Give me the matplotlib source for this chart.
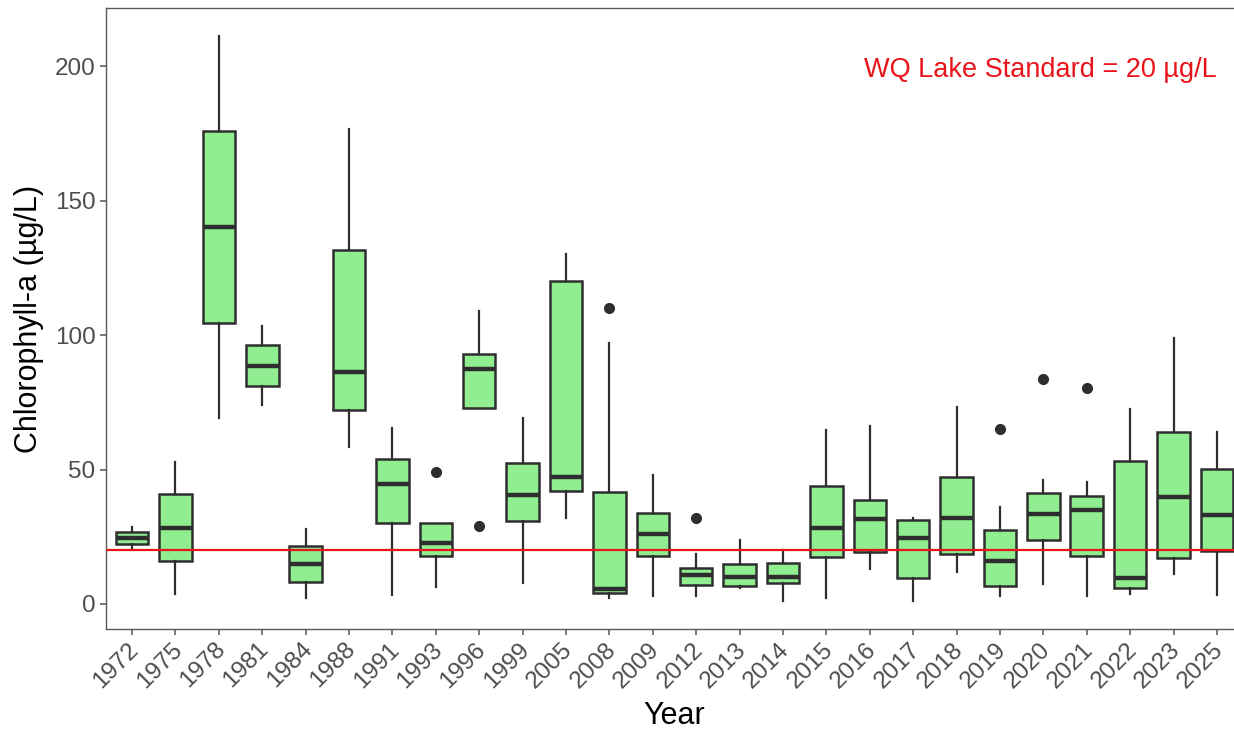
import matplotlib.pyplot as plt
import matplotlib.transforms as mtransforms
import numpy as np

plt.rcParams['font.family'] = ['Liberation Sans', 'DejaVu Sans']

years = ['1972', '1975', '1978', '1981', '1984', '1988', '1991', '1993', '1996',
         '1999', '2005', '2008', '2009', '2012', '2013', '2014', '2015', '2016',
         '2017', '2018', '2019', '2020', '2021', '2022', '2023', '2025']

# five-number summaries per year (chlorophyll-a, ug/L)
whis_lo = [20.3, 3.7, 69.3, 74.0, 2.1, 58.4, 3.3, 6.2, 73.0, 7.7, 32.1, 2.1, 2.9,
           3.1, 5.9, 1.1, 2.1, 13.0, 1.2, 11.8, 2.9, 7.3, 2.9, 3.6, 11.0, 3.3]
q1 = [22.2, 15.9, 104.6, 81.2, 8.3, 72.1, 30.2, 18.0, 73.0, 30.7, 42.0, 4.0, 17.7,
      7.2, 6.6, 7.9, 17.6, 19.3, 9.8, 18.6, 6.8, 23.8, 17.9, 5.9, 17.0, 19.7]
median = [24.5, 28.3, 140.3, 88.6, 15.0, 86.1, 44.7, 22.8, 87.5, 40.5, 47.1, 5.5, 25.9,
          10.7, 10.2, 10.0, 28.1, 31.5, 24.5, 32.0, 15.8, 33.4, 34.9, 9.8, 39.9, 33.0]
q3 = [26.9, 40.8, 175.8, 96.2, 21.4, 131.6, 53.9, 30.0, 93.1, 52.5, 120.1, 41.6, 33.9,
      13.5, 14.9, 15.2, 43.7, 38.5, 31.2, 47.2, 27.6, 41.4, 40.3, 53.1, 64.0, 50.3]
whis_hi = [28.7, 52.8, 211.2, 103.2, 27.9, 176.6, 65.5, 30.0, 108.9, 69.1, 130.0, 96.9, 48.0,
           18.6, 23.8, 20.0, 64.7, 66.1, 31.8, 73.1, 36.2, 46.1, 45.2, 72.5, 98.9, 64.0]
outliers = [[], [], [], [], [], [], [], [49.1], [29.0], [], [], [110.1], [],
            [32.1], [], [], [], [], [], [], [65.1], [83.7], [80.2], [], [], []]

standard = 20

stats = []
for i, yr in enumerate(years):
    stats.append({'label': yr, 'whislo': whis_lo[i], 'q1': q1[i], 'med': median[i],
                  'q3': q3[i], 'whishi': whis_hi[i], 'fliers': outliers[i]})

fig = plt.figure(figsize=(12.34, 7.31), dpi=100)
ax = fig.add_axes([106 / 1234, 102 / 731, 1137 / 1234, 621 / 731])

line_col = '#2e2e2e'
pos = np.arange(1, len(years) + 1)
ax.bxp(stats, positions=pos, widths=0.75, patch_artist=True, showcaps=False,
       boxprops=dict(facecolor='#90EE90', edgecolor=line_col, linewidth=1.8),
       medianprops=dict(color=line_col, linewidth=3.2),
       whiskerprops=dict(color=line_col, linewidth=1.6),
       flierprops=dict(marker='o', markerfacecolor=line_col, markeredgecolor=line_col,
                       markersize=7))

ax.axhline(standard, color='#e8141a', linewidth=1.6, zorder=3)
ax.text(pos[-1], 198.5, 'WQ Lake Standard = 20 µg/L', color='#e8141a', fontsize=19.5,
        ha='right', va='center')

ax.set_xlim(0.4, len(years) + 0.6)
ax.set_ylim(-9.3, 221.6)
ax.set_yticks([0, 50, 100, 150, 200])
ax.set_xticks(pos)
ax.set_xticklabels(years, rotation=45, ha='right')
ax.tick_params(axis='both', colors='#555555', labelcolor='#4d4d4d', labelsize=17.5,
               length=4, width=1.1)
ax.tick_params(axis='x', pad=2)

# nudge the rotated year labels so they end just right of their ticks
shift = mtransforms.ScaledTranslation(11 / 100, -1 / 100, fig.dpi_scale_trans)
for lbl in ax.get_xticklabels():
    lbl.set_transform(lbl.get_transform() + shift)

for s in ax.spines.values():
    s.set_color('#5a5a5a')
    s.set_linewidth(1.0)

ax.set_xlabel('Year', fontsize=22, labelpad=6)
ax.set_ylabel('Chlorophyll-a (µg/L)', fontsize=22, labelpad=8)

fig.savefig('out.png', dpi=100)
